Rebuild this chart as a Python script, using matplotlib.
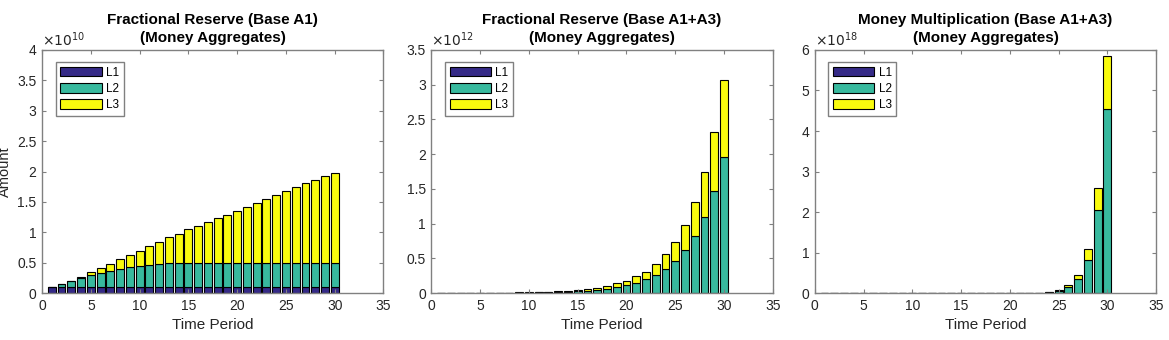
import matplotlib.pyplot as plt
import numpy as np

plt.rcParams['font.family'] = ['Liberation Sans', 'DejaVu Sans']

periods = np.arange(1, 31)

# Panel 1: Fractional Reserve (Base A1), units of 1e10
p1_l1 = [0.1] * 30
p1_l12 = [0.1, 0.148, 0.2, 0.255, 0.29, 0.33, 0.365, 0.397, 0.427, 0.45,
          0.466, 0.48, 0.49, 0.5, 0.5, 0.5, 0.5, 0.5, 0.5, 0.5,
          0.5, 0.5, 0.5, 0.5, 0.5, 0.5, 0.5, 0.5, 0.5, 0.5]
p1_total = [0.1, 0.148, 0.2, 0.27, 0.34, 0.41, 0.48, 0.56, 0.62, 0.70,
            0.77, 0.84, 0.92, 0.98, 1.05, 1.11, 1.17, 1.23, 1.29, 1.35,
            1.41, 1.49, 1.55, 1.62, 1.68, 1.74, 1.81, 1.86, 1.93, 1.98]

# Panel 2: Fractional Reserve (Base A1+A3), units of 1e12
p2_l1 = [0.001] * 30
p2_l12 = [0.001, 0.0016, 0.0019, 0.0022, 0.0026, 0.0032, 0.004, 0.005, 0.006, 0.008,
          0.010, 0.013, 0.017, 0.022, 0.028, 0.036, 0.048, 0.065, 0.086, 0.11,
          0.15, 0.20, 0.265, 0.345, 0.46, 0.615, 0.82, 1.10, 1.47, 1.96]
p2_total = [0.001, 0.0022, 0.0026, 0.003, 0.0036, 0.0045, 0.0055, 0.0068, 0.0085, 0.011,
            0.014, 0.019, 0.025, 0.033, 0.044, 0.058, 0.08, 0.105, 0.14, 0.18,
            0.24, 0.31, 0.42, 0.56, 0.74, 0.975, 1.31, 1.74, 2.32, 3.07]

# Panel 3: Money Multiplication (Base A1+A3), units of 1e18
p3_l1 = [0.0] * 30
p3_l12 = [0.0, 0.0, 0.0, 0.0, 0.0, 0.0, 0.0, 0.0, 0.0, 0.0,
          0.0, 0.0, 0.0, 0.0, 0.0, 0.0, 0.0, 0.0001, 0.0002, 0.0005,
          0.0012, 0.003, 0.008, 0.022, 0.058, 0.15, 0.345, 0.81, 2.05, 4.54]
p3_total = [0.0, 0.0, 0.0, 0.0, 0.0, 0.0, 0.0, 0.0, 0.0, 0.0,
            0.0, 0.0, 0.0, 0.0, 0.0, 0.0, 0.0001, 0.0002, 0.0004, 0.0009,
            0.002, 0.005, 0.012, 0.03, 0.074, 0.19, 0.44, 1.08, 2.60, 5.86]

titles = ['Fractional Reserve (Base A1)\n(Money Aggregates)',
          'Fractional Reserve (Base A1+A3)\n(Money Aggregates)',
          'Money Multiplication (Base A1+A3)\n(Money Aggregates)']
exponents = [10, 12, 18]
ylims = [4, 3.5, 6]
ysteps = [0.5, 0.5, 1]
labels = ['L1', 'L2', 'L3']
colors = ['#352a87', '#38b99e', '#f9fb0e']

panels = [(p1_l1, p1_l12, p1_total), (p2_l1, p2_l12, p2_total), (p3_l1, p3_l12, p3_total)]
lefts = [0.036, 0.369, 0.697]

fig = plt.figure(figsize=(11.69, 3.4), dpi=100)
axc = '#262626'

for i, (l1, l12, tot) in enumerate(panels):
    ax = fig.add_axes([lefts[i], 0.138, 0.292, 0.715])
    l1 = np.array(l1)
    l2 = np.array(l12) - l1
    l3 = np.array(tot) - np.array(l12)
    ax.bar(periods, l1, width=0.8, color=colors[0], edgecolor='black', linewidth=0.8, label=labels[0])
    ax.bar(periods, l2, width=0.8, bottom=l1, color=colors[1], edgecolor='black', linewidth=0.8, label=labels[1])
    ax.bar(periods, l3, width=0.8, bottom=l1 + l2, color=colors[2], edgecolor='black', linewidth=0.8, label=labels[2])

    ax.set_xlim(0, 35)
    ax.set_ylim(0, ylims[i])
    ax.set_xticks(np.arange(0, 36, 5))
    yt = np.arange(0, ylims[i] + 0.01, ysteps[i])
    ax.set_yticks(yt)
    ax.set_yticklabels(['%g' % v for v in yt])
    ax.tick_params(direction='in', top=True, right=True, length=3, width=0.8,
                   labelsize=10, colors='#808080', labelcolor=axc, pad=4)
    for s in ax.spines.values():
        s.set_color('#808080')
        s.set_linewidth(1.0)
    ax.text(0.0, 1.005, r'$\times 10^{%d}$' % exponents[i], transform=ax.transAxes,
            fontsize=10, color=axc, ha='left', va='bottom')
    ax.set_title(titles[i], fontsize=11, fontweight='bold', pad=6, linespacing=1.3)
    ax.set_xlabel('Time Period', fontsize=11, color=axc, labelpad=4)
    if i == 0:
        ax.set_ylabel('Amount', fontsize=10.5, color=axc)
        ax.yaxis.set_label_coords(-0.088, 0.5)
    leg = ax.legend(loc='upper left', bbox_to_anchor=(0.04, 0.95), fontsize=8.5,
                    handlelength=3.5, handleheight=0.85, handletextpad=0.35,
                    labelspacing=0.35, borderpad=0.4, borderaxespad=0,
                    fancybox=False, framealpha=1)
    leg.get_frame().set_edgecolor('#808080')
    leg.get_frame().set_linewidth(1.0)

plt.savefig('out.png', dpi=100)
